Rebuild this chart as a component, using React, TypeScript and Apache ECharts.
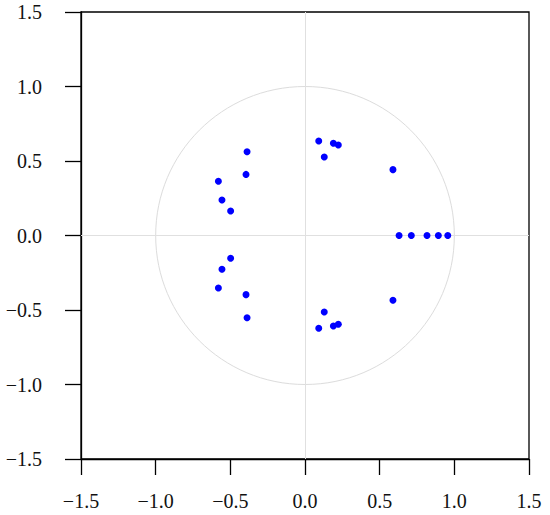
import React, { useEffect, useRef } from "react";
import * as echarts from "echarts";

const reParts: number[] = [
  -0.388, -0.395, -0.58, -0.556, -0.498,
  -0.498, -0.556, -0.58, -0.395, -0.388,
  0.092, 0.129, 0.19, 0.223,
  0.092, 0.129, 0.19, 0.223,
  0.589, 0.589,
  0.63, 0.712, 0.817, 0.893, 0.956,
];
const imParts: number[] = [
  0.562, 0.41, 0.364, 0.238, 0.164,
  -0.153, -0.227, -0.352, -0.397, -0.552,
  0.634, 0.527, 0.619, 0.607,
  -0.623, -0.513, -0.607, -0.596,
  0.442, -0.435,
  0, 0, 0, 0, 0,
];
const axisMin = -1.5;
const axisMax = 1.5;
const tickStep = 0.5;
const circleRadius = 1;

const fmt = (v: number) => v.toFixed(1).replace("-", "\u2212");

export default function App() {
  const ref = useRef<HTMLDivElement>(null);
  useEffect(() => {
    if (!ref.current) return;
    const chart = echarts.init(ref.current, undefined, { renderer: "svg" });
    const font = "Liberation Serif";
    const axisCommon = {
      type: "value" as const,
      min: axisMin,
      max: axisMax,
      interval: tickStep,
      axisLine: { show: true, onZero: false, lineStyle: { color: "#000", width: 1.3 } },
      axisTick: { show: true, length: 16, lineStyle: { color: "#000", width: 1.3 } },
      splitLine: { show: false },
    };
    chart.setOption({
      animation: false,
      backgroundColor: "#fff",
      grid: {
        left: 81,
        right: 21,
        top: 12,
        bottom: 56,
        show: true,
        borderColor: "#000",
        borderWidth: 1.3,
      },
      xAxis: {
        ...axisCommon,
        axisLabel: {
          margin: 32,
          fontFamily: font,
          fontSize: 20,
          color: "#111",
          formatter: fmt,
        },
      },
      yAxis: {
        ...axisCommon,
        axisLabel: {
          margin: 39,
          fontFamily: font,
          fontSize: 20,
          color: "#111",
          formatter: fmt,
          padding: [8, 0, 0, 0],
        },
      },
      series: [
        {
          type: "scatter",
          data: reParts.map((r, i) => [r, imParts[i]]),
          symbolSize: 7,
          itemStyle: { color: "#0000ff", opacity: 1 },
          z: 5,
          markLine: {
            silent: true,
            symbol: "none",
            label: { show: false },
            lineStyle: { color: "#e0e0e0", width: 1, type: "solid" },
            data: [{ xAxis: 0 }, { yAxis: 0 }],
          },
        },
      ],
    });
    const c = chart.convertToPixel({ gridIndex: 0 }, [0, 0]) as number[];
    const e = chart.convertToPixel({ gridIndex: 0 }, [circleRadius, circleRadius]) as number[];
    chart.setOption({
      graphic: [
        {
          type: "ellipse",
          silent: true,
          z: 1,
          shape: { cx: c[0], cy: c[1], rx: Math.abs(e[0] - c[0]), ry: Math.abs(e[1] - c[1]) },
          style: { fill: "none", stroke: "#dcdcdc", lineWidth: 1 },
        },
      ],
    });
    return () => chart.dispose();
  }, []);
  return <div ref={ref} style={{ width: 550, height: 515, position: "absolute", left: 0, top: 0 }} />;
}
